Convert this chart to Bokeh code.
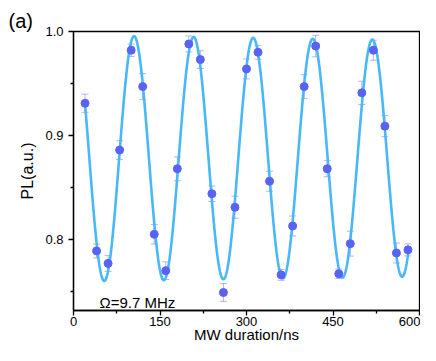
import numpy as np
from bokeh.plotting import figure
from bokeh.models import ColumnDataSource, Whisker, Label, FixedTicker, PrintfTickFormatter
from bokeh.embed import file_html
from bokeh.resources import INLINE

# measured data
duration_ns = [20, 40, 60, 80, 100, 120, 140, 160, 180, 200, 220, 240, 260, 280, 300,
               320, 340, 360, 380, 400, 420, 440, 460, 480, 500, 520, 540, 560, 580]
pl_values = [0.931, 0.789, 0.777, 0.886, 0.982, 0.947, 0.805, 0.770, 0.868, 0.988,
             0.973, 0.844, 0.749, 0.831, 0.964, 0.980, 0.856, 0.766, 0.813, 0.947,
             0.986, 0.868, 0.767, 0.796, 0.941, 0.982, 0.909, 0.787, 0.790]
pl_errors = [0.0087, 0.0067, 0.0077, 0.009, 0.006, 0.0125, 0.0093, 0.0085, 0.0115, 0.0077,
             0.0085, 0.0075, 0.0085, 0.0106, 0.0096, 0.0067, 0.0096, 0.0053, 0.0096, 0.0115,
             0.0103, 0.0077, 0.0045, 0.012, 0.0112, 0.0096, 0.0101, 0.0096, 0.0058]

# Rabi fit parameters
fit_offset = 0.878
fit_amplitude = 0.1184
fit_freq_ghz = 0.00968
fit_peak_ns = 105.0
fit_tau_ns = 14400.0
fit_start_ns = 20
fit_end_ns = 582

x_ticks = [0, 150, 300, 450, 600]
x_minor = [75, 225, 375, 525]
y_ticks = [0.8, 0.9, 1.0]
y_minor = [0.75, 0.85, 0.95]

t_fit = np.linspace(fit_start_ns, fit_end_ns, 800)
y_fit = fit_offset + fit_amplitude * np.exp(-t_fit / fit_tau_ns) * np.cos(
    2 * np.pi * fit_freq_ghz * (t_fit - fit_peak_ns))

FONT = "Liberation Sans"

p = figure(width=420, height=345, x_range=(0, 600), y_range=(0.7317, 1.0),
           output_backend="svg", toolbar_location=None,
           min_border_left=73, min_border_right=1, min_border_top=31, min_border_bottom=30)
p.background_fill_color = "white"
p.border_fill_color = "white"
p.outline_line_color = "black"
p.outline_line_width = 1.3
p.xgrid.visible = False
p.ygrid.visible = False

p.title.text = "(a)"
p.title.text_font = FONT
p.title.text_font_size = "20px"
p.title.text_font_style = "normal"
p.title.text_color = "black"
p.title.align = "left"
p.title.offset = -65
p.title.standoff = 0
p.title.vertical_align = "bottom"

p.line(t_fit, y_fit, line_color="#48B8F8", line_width=2.6)

src = ColumnDataSource(dict(
    x=duration_ns, y=pl_values,
    lo=[v - e for v, e in zip(pl_values, pl_errors)],
    hi=[v + e for v, e in zip(pl_values, pl_errors)]))
w = Whisker(source=src, base="x", lower="lo", upper="hi",
            line_color="#9A9AF2", line_alpha=0.75, line_width=1)
w.upper_head.size = 7
w.lower_head.size = 7
w.upper_head.line_color = "#9A9AF2"
w.lower_head.line_color = "#9A9AF2"
w.upper_head.line_alpha = 0.75
w.lower_head.line_alpha = 0.75
p.add_layout(w)
p.scatter("x", "y", source=src, size=8, fill_color="#5A62F2", line_color="#5A62F2")

for ax in (p.xaxis[0], p.yaxis[0]):
    ax.axis_line_color = "black"
    ax.axis_line_width = 1.3
    ax.major_tick_line_color = "black"
    ax.major_tick_line_width = 1.3
    ax.minor_tick_line_color = "black"
    ax.minor_tick_line_width = 1.3
    ax.major_tick_in = 0
    ax.major_tick_out = 5
    ax.minor_tick_in = 0
    ax.minor_tick_out = 3
    ax.major_label_text_font = FONT
    ax.major_label_text_font_size = "13px"
    ax.major_label_text_color = "black"
    ax.axis_label_text_font = FONT
    ax.axis_label_text_font_size = "16px"
    ax.axis_label_text_font_style = "normal"
    ax.axis_label_text_color = "black"

p.xaxis[0].ticker = FixedTicker(ticks=x_ticks, minor_ticks=x_minor)
p.yaxis[0].ticker = FixedTicker(ticks=y_ticks, minor_ticks=y_minor)
p.yaxis[0].formatter = PrintfTickFormatter(format="%.1f")
p.xaxis[0].major_label_standoff = 1
p.yaxis[0].major_label_standoff = 5
p.xaxis[0].axis_label = "MW duration/ns"
p.yaxis[0].axis_label = "PL(a.u.)"
p.xaxis[0].axis_label_standoff = -3
p.xaxis[0].axis_label_text_font_size = "15px"
p.yaxis[0].axis_label_standoff = 6

p.add_layout(Label(x=45, y=0.739, text="Ω=9.7 MHz", text_font=FONT,
                   text_font_size="15px", text_color="black",
                   text_baseline="alphabetic", text_align="left"))

open("out.html", "w").write(file_html(p, INLINE))
